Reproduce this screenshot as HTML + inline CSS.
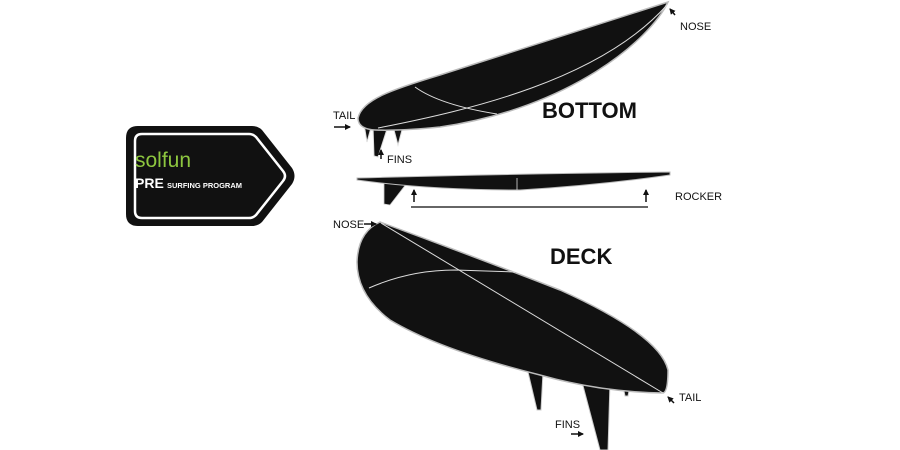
<!DOCTYPE html>
<html><head><meta charset="utf-8"><style>
html,body{margin:0;padding:0;background:#fff;width:900px;height:450px;overflow:hidden}
text{font-family:"Liberation Sans",sans-serif}
</style></head><body>
<svg width="900" height="450" viewBox="0 0 900 450" xmlns="http://www.w3.org/2000/svg">
<defs>
<marker id="ah" markerWidth="6" markerHeight="6" refX="5" refY="3" orient="auto" markerUnits="userSpaceOnUse"><path d="M0,0 L6,3 L0,6 Z" fill="#111"/></marker>
</defs>
<!-- logo -->
<path d="M138,126 L252,126 Q258,126 262,130 L292,168 Q297,176 292,184 L262,222 Q258,226 252,226 L138,226 Q126,226 126,214 L126,138 Q126,126 138,126 Z" fill="#111"/>
<path d="M142,134 L249,134 Q253,134 256,137 L283,171 Q287,176 283,181 L256,215 Q253,218 249,218 L142,218 Q135,218 135,211 L135,141 Q135,134 142,134 Z" fill="none" stroke="#fff" stroke-width="2.5"/>
<text x="135" y="167" font-size="21" fill="#8dc63f">solfun</text>
<text x="135" y="188" font-size="14" font-weight="bold" fill="#fff">PRE</text>
<text x="167" y="188" font-size="7.5" font-weight="bold" fill="#fff">SURFING PROGRAM</text>

<!-- bottom board fins -->
<path d="M364,124 L372,124 L367,142 Z" fill="#111" stroke="#ddd" stroke-width="1"/>
<path d="M373,126 L388,126 L378,157 L374,156 Z" fill="#111" stroke="#ddd" stroke-width="1"/>
<path d="M394,130 L402,130 L398,145 Z" fill="#111" stroke="#ddd" stroke-width="1"/>
<!-- bottom board -->
<path d="M358,118 C362,100 390,90 440,75 L668,2 C650,40 570,108 440,127 Q400,131 375,130 Q358,129 358,118 Z" fill="#111" stroke="#bbb" stroke-width="1.5"/>
<path d="M378,128 C470,110 600,80 667,5" fill="none" stroke="#ddd" stroke-width="1"/>
<path d="M415,87 Q440,105 497,114" fill="none" stroke="#ddd" stroke-width="1"/>
<text x="542" y="118" font-size="22" font-weight="bold" fill="#111">BOTTOM</text>
<text x="680" y="30" font-size="11" fill="#111">NOSE</text>
<line x1="675" y1="15" x2="670" y2="9" stroke="#111" stroke-width="1.5" marker-end="url(#ah)"/>
<text x="333" y="119" font-size="11" fill="#111">TAIL</text>
<line x1="334" y1="127" x2="350" y2="127" stroke="#111" stroke-width="1.5" marker-end="url(#ah)"/>
<line x1="381" y1="159" x2="381" y2="150" stroke="#111" stroke-width="1.5" marker-end="url(#ah)"/>
<text x="387" y="163" font-size="11" fill="#111">FINS</text>

<!-- side view -->
<path d="M384,183 L407,183 L390,205 L384,204 Z" fill="#111" stroke="#ccc" stroke-width="0.8"/>
<path d="M357,178 Q500,174 670,172 L670,175 Q600,185 520,190 Q430,190 357,180 Z" fill="#111" stroke="#bbb" stroke-width="1"/>
<line x1="517" y1="178" x2="517" y2="190" stroke="#ddd" stroke-width="0.8"/>
<line x1="414" y1="202" x2="414" y2="190" stroke="#111" stroke-width="1.5" marker-end="url(#ah)"/>
<line x1="646" y1="202" x2="646" y2="190" stroke="#111" stroke-width="1.5" marker-end="url(#ah)"/>
<line x1="411" y1="207" x2="648" y2="207" stroke="#333" stroke-width="1.5"/>
<text x="675" y="200" font-size="11" fill="#111">ROCKER</text>

<!-- deck fins -->
<path d="M528,372 L543,372 L541,410 L537,410 Z" fill="#111" stroke="#ccc" stroke-width="1"/>
<path d="M582,382 L610,382 L608,450 L600,450 Z" fill="#111" stroke="#ccc" stroke-width="1"/>
<path d="M623,386 L630,386 L628,396 L625,396 Z" fill="#111" stroke="#ccc" stroke-width="1"/>
<!-- deck board -->
<path d="M380,222 Q470,255 560,290 Q660,335 668,370 Q668,392 663,393 Q600,392 540,375 Q440,350 390,320 Q357,295 357,262 Q358,232 380,222 Z" fill="#111" stroke="#bbb" stroke-width="1.5"/>
<path d="M381,223 L663,393" stroke="#ddd" stroke-width="1" fill="none"/>
<path d="M369,288 Q410,270 455,270 L515,272" stroke="#ddd" stroke-width="1" fill="none"/>
<text x="550" y="264" font-size="22" font-weight="bold" fill="#111">DECK</text>
<text x="333" y="228" font-size="11" fill="#111">NOSE</text>
<line x1="364" y1="224" x2="376" y2="224" stroke="#111" stroke-width="1.5" marker-end="url(#ah)"/>
<line x1="674" y1="403" x2="668" y2="397" stroke="#111" stroke-width="1.5" marker-end="url(#ah)"/>
<text x="679" y="401" font-size="11" fill="#111">TAIL</text>
<text x="555" y="428" font-size="11" fill="#111">FINS</text>
<line x1="571" y1="434" x2="583" y2="434" stroke="#111" stroke-width="1.5" marker-end="url(#ah)"/>
</svg>
</body></html>
